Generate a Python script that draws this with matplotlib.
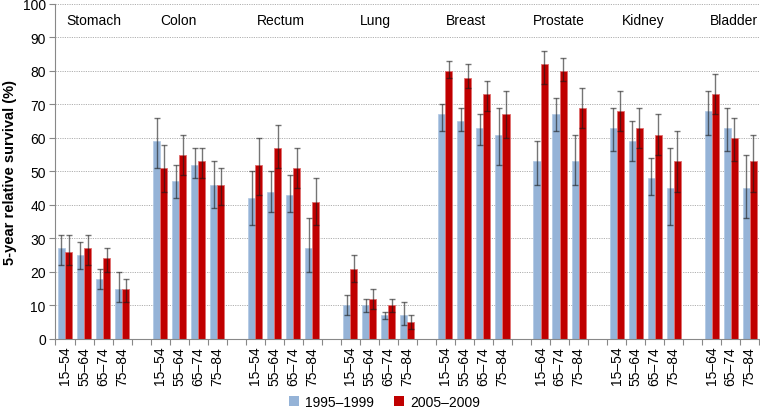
import numpy as np
import matplotlib
matplotlib.use("Agg")
import matplotlib.pyplot as plt
from matplotlib.patches import Patch

plt.rcParams['font.family'] = ['Liberation Sans', 'DejaVu Sans']

# Data
sites = ['Stomach', 'Colon', 'Rectum', 'Lung', 'Breast', 'Prostate', 'Kidney', 'Bladder']
ages4 = ['15\u201354', '55\u201364', '65\u201374', '75\u201384']
ages3 = ['15\u201364', '65\u201374', '75\u201384']
site_ages = [ages4, ages4, ages4, ages4, ages4, ages3, ages4, ages3]

surv_9599 = [27, 25, 18, 15, 59, 47, 52, 46, 42, 44, 43, 27, 10, 10, 7, 7,
             67, 65, 63, 61, 53, 67, 53, 63, 59, 48, 45, 68, 63, 45]
low_9599 = [22, 21, 15, 11, 51, 42, 48, 39, 34, 38, 38, 20, 7, 8, 6, 4,
            62, 62, 58, 52, 46, 62, 46, 56, 53, 43, 34, 61, 56, 36]
high_9599 = [31, 29, 21, 20, 66, 52, 57, 53, 50, 50, 49, 36, 13, 12, 8, 11,
             70, 69, 67, 69, 59, 72, 61, 69, 65, 54, 57, 74, 69, 55]

surv_0509 = [26, 27, 24, 15, 51, 55, 53, 46, 52, 57, 51, 41, 21, 12, 10, 5,
             80, 78, 73, 67, 82, 80, 69, 68, 63, 61, 53, 73, 60, 53]
low_0509 = [22, 22, 20, 11, 44, 49, 48, 40, 43, 51, 45, 34, 17, 9, 8, 3,
            78, 75, 68, 60, 76, 77, 63, 62, 57, 55, 44, 67, 53, 44]
high_0509 = [31, 31, 27, 18, 58, 61, 57, 51, 60, 64, 57, 48, 25, 15, 12, 7,
             83, 82, 77, 74, 86, 84, 75, 74, 69, 67, 62, 79, 66, 61]

# label nudges (in slots, from group start)
label_shift = [1.5, 0.97, 1.35, 1.3, 1.07, 0.96, 1.38, 1.16]

BLUE = '#95b3d7'
RED = '#c00000'

# slot positions, one empty slot between sites
xpos, xlab, label_x = [], [], []
slot = 0
for ages, sh in zip(site_ages, label_shift):
    label_x.append(slot + sh)
    for a in ages:
        xpos.append(slot)
        xlab.append(a)
        slot += 1
    slot += 1
nslots = slot - 1
xpos = np.array(xpos)

fig = plt.figure(figsize=(7.6, 4.1), dpi=100)
ax = fig.add_axes([0.073, 0.171, 0.926, 0.817])

w = 0.37
v1 = np.array(surv_9599)
v2 = np.array(surv_0509)
ax.bar(xpos - w / 2, v1, w, color=BLUE, edgecolor='#b0c8e4', linewidth=0.5, zorder=2)
ax.bar(xpos + w / 2, v2, w, color=RED, edgecolor='#e07070', linewidth=0.6, zorder=2)

err1 = [v1 - np.array(low_9599), np.array(high_9599) - v1]
err2 = [v2 - np.array(low_0509), np.array(high_0509) - v2]
ekw = dict(fmt='none', ecolor=(0.1, 0.1, 0.1, 0.6), elinewidth=1.0, capsize=2.2, capthick=1.0, zorder=3)
ax.errorbar(xpos - w / 2, v1, yerr=err1, **ekw)
ax.errorbar(xpos + w / 2, v2, yerr=err2, **ekw)

for name, lx in zip(sites, label_x):
    ax.text(lx, 95.3, name, ha='center', va='center', fontsize=10)

ax.set_xlim(-0.5, nslots - 0.5)
ax.set_ylim(0, 100)
ax.set_yticks(np.arange(0, 101, 10))
ax.yaxis.grid(True, linestyle=(0, (1.2, 1.2)), color='#b0b0b0', linewidth=0.7, zorder=0)
ax.set_axisbelow(True)

ax.set_xticks(xpos)
ax.set_xticklabels(xlab, rotation=90, fontsize=10)
ax.set_xticks(np.arange(-0.5, nslots, 1.0), minor=True)
ax.tick_params(axis='x', which='major', length=0, pad=5)
ax.tick_params(axis='x', which='minor', length=4, color='#888888', width=0.8)
ax.tick_params(axis='y', length=4, color='#888888', width=0.8, labelsize=10, pad=3)

for s in ['top', 'right']:
    ax.spines[s].set_visible(False)
for s in ['left', 'bottom']:
    ax.spines[s].set_color('#888888')
    ax.spines[s].set_linewidth(0.8)

ax.set_ylabel('5-year relative survival (%)', fontsize=10.5, fontweight='bold', labelpad=4)

handles = [Patch(facecolor=BLUE, edgecolor='none', label='1995\u20131999'),
           Patch(facecolor=RED, edgecolor='none', label='2005\u20132009')]
fig.legend(handles=handles, loc='center', bbox_to_anchor=(0.506, 0.018), ncol=2,
           frameon=False, fontsize=10, handlelength=0.7, handleheight=0.7,
           handletextpad=0.4, columnspacing=1.5)

fig.savefig('out.png', dpi=100)
